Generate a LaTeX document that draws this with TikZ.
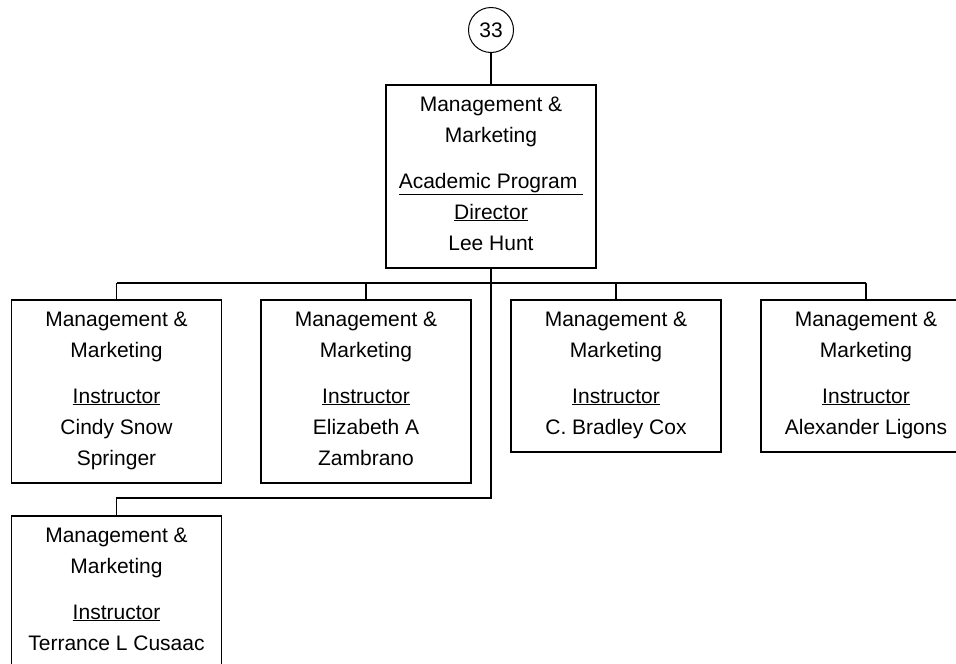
\documentclass[tikz,border=0pt]{standalone}
\usepackage{fontspec}
\setmainfont{Liberation Sans}
\usepackage{tikz}
\usetikzlibrary{positioning}

\begin{document}
\begin{tikzpicture}[
    x=1pt, y=-1pt,
    staffbox/.style={
        draw=black, line width=1.6pt, fill=white,
        font=\fontsize{21}{31}\selectfont,
        minimum width=210pt, inner sep=0pt, text depth=6pt,
        anchor=north, text centered, align=center
    },
    pagenum/.style={
        draw=black, circle, line width=1pt,
        font=\fontsize{21}{25}\selectfont,
        minimum size=45pt, inner sep=0pt
    },
    conn/.style={draw=black, line width=1.6pt},
]
\useasboundingbox (0,0) rectangle (956,664);

%% =================================================================
%% Page number and director (top)
%% =================================================================
\node[pagenum] (num) at (491, 30) {33};

\node[staffbox, minimum height=183pt] (dir) at (491, 84)
    {Management \&\\Marketing\\[15pt]
     \underline{Academic Program\ }\\\underline{Director}\\Lee Hunt};

\draw[conn] (num.south) -- (dir.north);

%% =================================================================
%% Instructors (first row)
%% =================================================================
\node[staffbox, minimum height=183pt] (snow) at (116.5, 299)
    {Management \&\\Marketing\\[15pt]
     \underline{Instructor}\\Cindy Snow\\Springer};

\node[staffbox, minimum height=183pt] (zambrano) at (366, 299)
    {Management \&\\Marketing\\[15pt]
     \underline{Instructor}\\Elizabeth A\\Zambrano};

\node[staffbox, minimum height=152pt] (cox) at (616, 299)
    {Management \&\\Marketing\\[15pt]
     \underline{Instructor}\\C. Bradley Cox};

\node[staffbox, minimum height=152pt] (ligons) at (866, 299)
    {Management \&\\Marketing\\[15pt]
     \underline{Instructor}\\Alexander Ligons};

%% =================================================================
%% Instructor (second row)
%% =================================================================
\node[staffbox, minimum height=183pt] (cusaac) at (116.5, 515)
    {Management \&\\Marketing\\[15pt]
     \underline{Instructor}\\Terrance L Cusaac\\~};

%% Director -> instructors
\coordinate (busL) at (116.5, 283);
\coordinate (busR) at (866, 283);
\coordinate (turn) at (491, 498);
\draw[conn] (busL) -- (busR);
\foreach \who in {snow, zambrano, cox, ligons}
    \draw[conn] (\who.north) -- (\who.north |- busL);
\draw[conn] (dir.south) -- (turn) -| (cusaac.north);

\end{tikzpicture}
\end{document}
